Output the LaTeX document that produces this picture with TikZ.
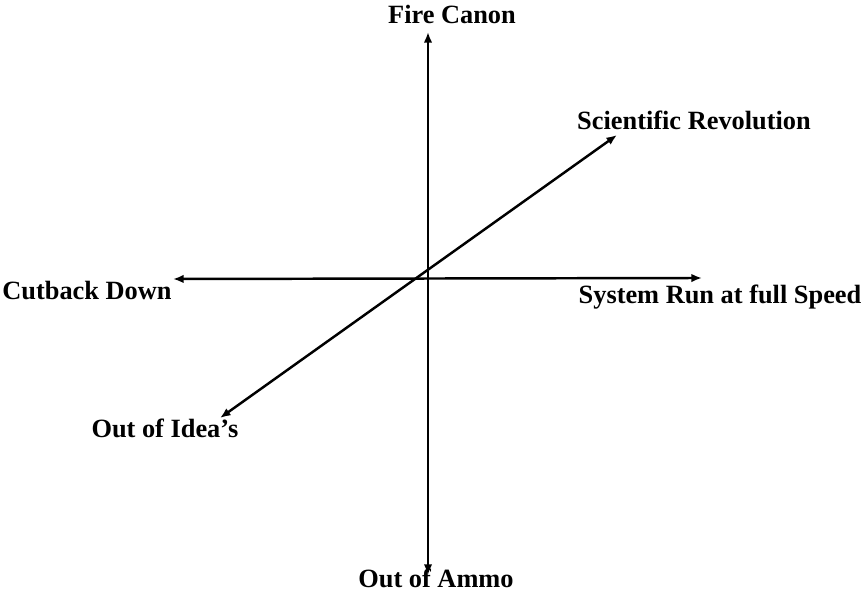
\documentclass[tikz,border=0pt]{standalone}
\usepackage{fontspec}
\setmainfont{Liberation Serif}
\usepackage{tikz}
\usetikzlibrary{arrows.meta, positioning, calc}
\tikzstyle{axisline} = [line width=1.4pt,<->,>={Latex[length=6pt,width=4.8pt]}]
\tikzstyle{axislabel} = [anchor=base, inner sep=0pt, font=\fontsize{15}{18}\selectfont\bfseries]

\begin{document}
\begin{tikzpicture}

\useasboundingbox (0,0) rectangle (17.24,11.84);

\coordinate (top) at (8.56,11.2);
\coordinate (bottom) at (8.56,0.34);
\coordinate (left) at (3.46,6.26);
\coordinate (right) at (14.04,6.28);
\coordinate (lowdiag) at (4.40,3.48);
\coordinate (highdiag) at (12.34,9.14);

\node (fire) [axislabel] at (9.04,11.36) {Fire Canon};
\node (ammo) [axislabel] at (8.72,0.08) {Out of Ammo};
\node (cutback) [axislabel] at (1.74,5.84) {Cutback Down};
\node (fullspeed) [axislabel] at (14.40,5.76) {System Run at full Speed};
\node (science) [axislabel] at (13.88,9.24) {Scientific Revolution};
\node (ideas) [axislabel] at (3.30,3.08) {Out of Idea’s};

\draw [axisline] (bottom) -- (top);
\draw [axisline] (left) -- (right);
\draw [axisline] (lowdiag) -- (highdiag);

\end{tikzpicture}
\end{document}
